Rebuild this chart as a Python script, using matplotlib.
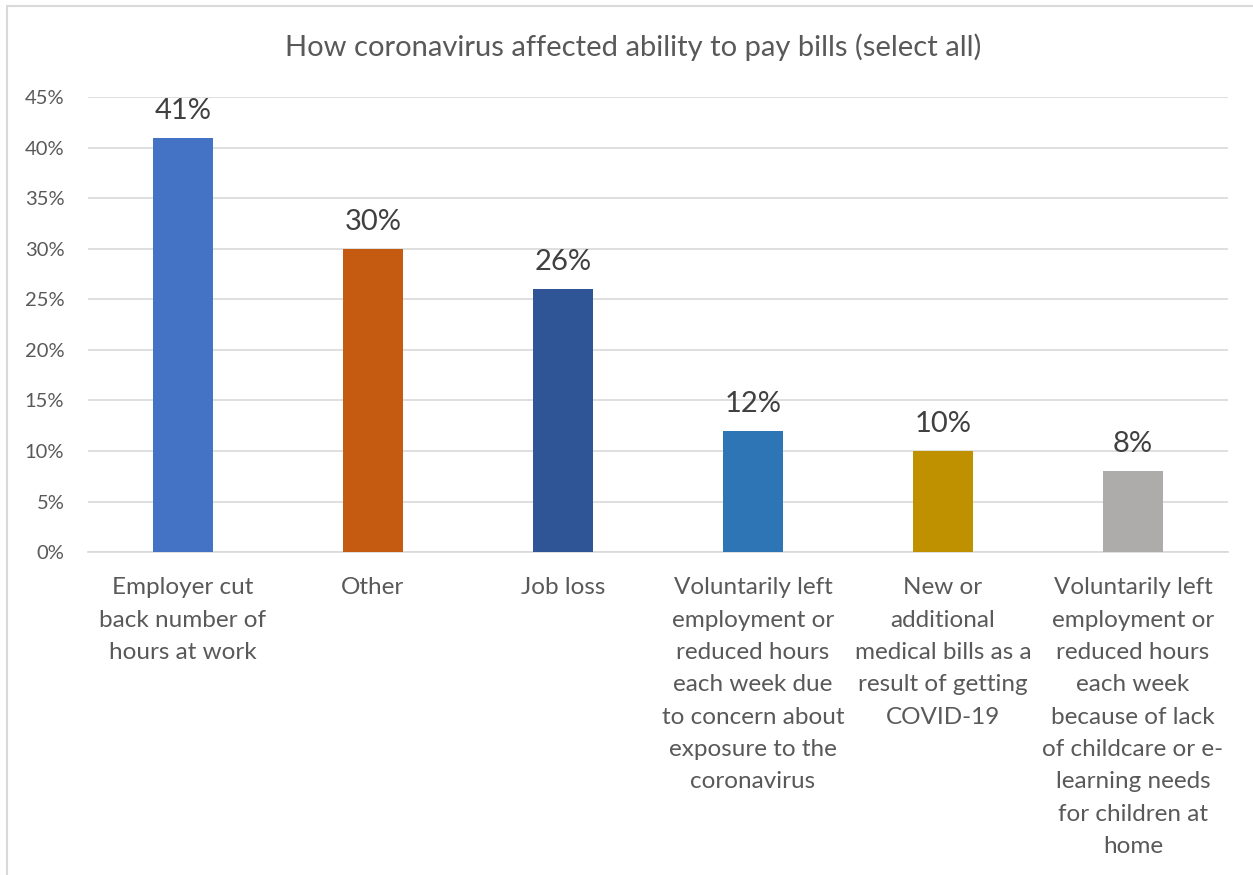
import matplotlib.pyplot as plt
from matplotlib.patches import Rectangle
from matplotlib.ticker import PercentFormatter

categories = [
    "Employer cut\nback number of\nhours at work",
    "Other",
    "Job loss",
    "Voluntarily left\nemployment or\nreduced hours\neach week due\nto concern about\nexposure to the\ncoronavirus",
    "New or\nadditional\nmedical bills as a\nresult of getting\nCOVID-19",
    "Voluntarily left\nemployment or\nreduced hours\neach week\nbecause of lack\nof childcare or e-\nlearning needs\nfor children at\nhome",
]
values = [41, 30, 26, 12, 10, 8]
colors = ["#4472C4", "#C55A11", "#2F5597", "#2E75B6", "#BF9000", "#AEABAB"]

plt.rcParams['font.family'] = ['Lato', 'DejaVu Sans']

fig = plt.figure(figsize=(12.53, 8.75), dpi=100)
ax = fig.add_axes([0.0702, 0.369, 0.9098, 0.520])

x = range(len(values))
bars = ax.bar(x, values, width=0.316, color=colors, zorder=3)

for b, v in zip(bars, values):
    ax.annotate(f"{v}%", (b.get_x() + b.get_width() / 2, v),
                xytext=(0, 10), textcoords='offset points',
                ha='center', va='bottom', fontsize=21, color='#404040')

ax.set_xlim(-0.5, len(values) - 0.5)
ax.set_ylim(0, 45)
ax.set_yticks(range(0, 46, 5))
ax.yaxis.set_major_formatter(PercentFormatter(decimals=0))
ax.set_xticks(list(x))
ax.set_xticklabels(categories, fontsize=17.5, color='#595959', linespacing=1.67, va='top')
ax.tick_params(axis='x', length=0, pad=18)
ax.tick_params(axis='y', length=0, pad=17, labelsize=14.5, labelcolor='#595959')

ax.grid(axis='y', color='#D9D9D9', linewidth=1.2, zorder=0)
for s in ['top', 'right', 'left']:
    ax.spines[s].set_visible(False)
ax.spines['bottom'].set_color('#D9D9D9')
ax.spines['bottom'].set_linewidth(1.2)

fig.text(0.505, 0.946, "How coronavirus affected ability to pay bills (select all)",
         ha='center', va='center', fontsize=21, color='#595959')

# light chart-area border
fig.patches.append(Rectangle((7 / 1253, -0.05), 1.1, 1 - 6 / 875 + 0.05,
                             transform=fig.transFigure, fill=False,
                             edgecolor='#D9D9D9', linewidth=1.5))

fig.savefig('out.png', dpi=100)
